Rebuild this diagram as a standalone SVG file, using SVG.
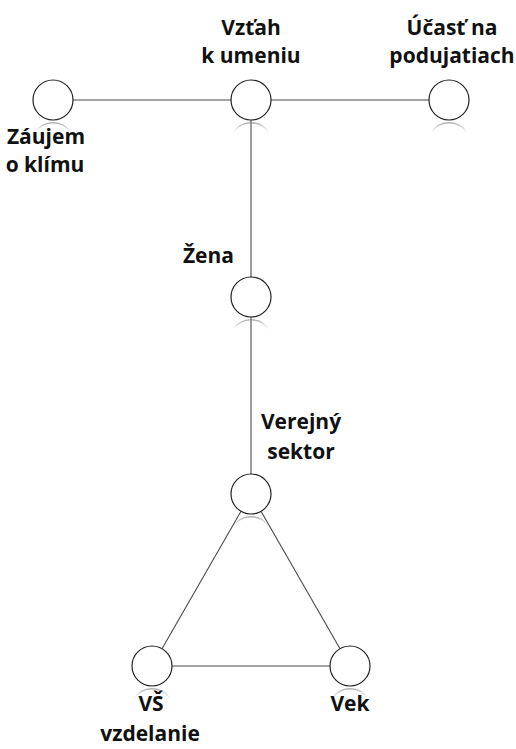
<svg xmlns="http://www.w3.org/2000/svg" xmlns:xlink="http://www.w3.org/1999/xlink" width="516" height="749" viewBox="0 0 516 749">
  <style>
    .node circle { fill: #ffffff; stroke: #222222; stroke-width: 1.2; }
    .refl { fill: none; stroke: url(#reflGrad); stroke-width: 1.4; }
    .edge { stroke: #4a4a4a; stroke-width: 1.1; fill: none; }
    text { font-family: "Open Sans", Lato, "Liberation Sans", sans-serif; font-weight: 700; font-size: 21px; fill: #111111; text-anchor: middle; }
  </style>
  <defs>
    <!-- faint mirrored arc drawn under each circle -->
    <linearGradient id="reflGrad" x1="0" y1="0" x2="0" y2="1">
      <stop offset="0" stop-color="#888888" stop-opacity="0.7"/>
      <stop offset="1" stop-color="#bbbbbb" stop-opacity="0"/>
    </linearGradient>
    <path id="refl" d="M -18 33 A 21 21 0 0 1 18 33"/>
  </defs>

  <rect width="516" height="749" fill="#ffffff"/>

  <g id="connectors">
    <line class="edge" x1="73" y1="100" x2="231" y2="100"/>
    <line class="edge" x1="271" y1="100" x2="429" y2="100"/>
    <line class="edge" x1="251" y1="120" x2="251" y2="277"/>
    <line class="edge" x1="251" y1="317" x2="251" y2="474"/>
    <line class="edge" x1="241" y1="511.3" x2="162" y2="648.7"/>
    <line class="edge" x1="261" y1="511.3" x2="340" y2="648.7"/>
    <line class="edge" x1="172" y1="666" x2="330" y2="666"/>
  </g>

  <g id="zaujem" class="node">
    <circle cx="53" cy="100" r="20"/>
    <use xlink:href="#refl" class="refl" transform="translate(53,100)"/>
    <text x="46" y="144">Záujem</text>
    <text x="45" y="172">o klímu</text>
  </g>

  <g id="vztah" class="node">
    <circle cx="251" cy="100" r="20"/>
    <use xlink:href="#refl" class="refl" transform="translate(251,100)"/>
    <text x="251" y="35">Vzťah</text>
    <text x="251" y="63">k umeniu</text>
  </g>

  <g id="ucast" class="node">
    <circle cx="449" cy="100" r="20"/>
    <use xlink:href="#refl" class="refl" transform="translate(449,100)"/>
    <text x="452" y="35">Účasť na</text>
    <text x="452" y="63">podujatiach</text>
  </g>

  <g id="zena" class="node">
    <circle cx="251" cy="297" r="20"/>
    <use xlink:href="#refl" class="refl" transform="translate(251,297)"/>
    <text x="234" y="263" style="text-anchor:end">Žena</text>
  </g>

  <g id="verejny" class="node">
    <circle cx="251" cy="494" r="20"/>
    <use xlink:href="#refl" class="refl" transform="translate(251,494)"/>
    <text x="301" y="429">Verejný</text>
    <text x="301" y="459">sektor</text>
  </g>

  <g id="vs" class="node">
    <circle cx="152" cy="666" r="20"/>
    <use xlink:href="#refl" class="refl" transform="translate(152,666)"/>
    <text x="151" y="711">VŠ</text>
    <text x="150" y="741">vzdelanie</text>
  </g>

  <g id="vek" class="node">
    <circle cx="350" cy="666" r="20"/>
    <use xlink:href="#refl" class="refl" transform="translate(350,666)"/>
    <text x="350" y="711">Vek</text>
  </g>
</svg>
